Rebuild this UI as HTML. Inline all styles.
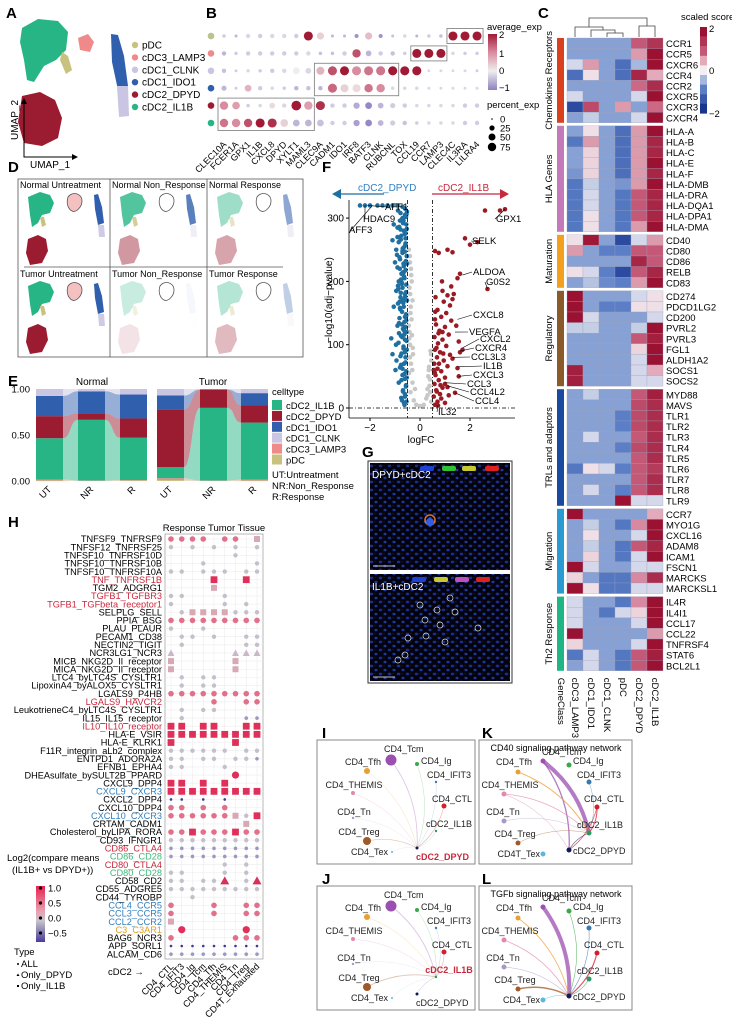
<!DOCTYPE html>
<html><head><meta charset="utf-8">
<style>
html,body{margin:0;padding:0;background:#fff}
svg{display:block;font-family:"Liberation Sans",Arial,sans-serif}
text{font-family:"Liberation Sans",Arial,sans-serif}
</style></head>
<body>
<svg id="fig" xmlns="http://www.w3.org/2000/svg" width="732" height="1025" viewBox="0 0 732 1025">
<defs>
<pattern id="cells" width="9" height="8" patternUnits="userSpaceOnUse">
<rect width="9" height="8" fill="#03030f"/>
<ellipse cx="2.5" cy="2" rx="1.8" ry="1.4" fill="#1a2f8a"/>
<ellipse cx="7" cy="6" rx="1.6" ry="1.3" fill="#20389a"/>
<circle cx="6" cy="1.5" r="0.4" fill="#2a6a2a"/>
</pattern>
<linearGradient id="hgrad" x1="0" y1="0" x2="0" y2="1">
<stop offset="0" stop-color="#e8204f"/><stop offset="0.45" stop-color="#e8a0b0"/><stop offset="0.62" stop-color="#c8c4cc"/><stop offset="1" stop-color="#4a3a9a"/>
</linearGradient>
<linearGradient id="bgrad" x1="0" y1="0" x2="0" y2="1">
<stop offset="0" stop-color="#a11a35"/><stop offset="0.33" stop-color="#d98ba0"/><stop offset="0.66" stop-color="#eeeeee"/><stop offset="1" stop-color="#9080c0"/>
</linearGradient>
</defs>
<g font-weight="bold" font-size="15">
<text x="6" y="18">A</text>
<text x="206" y="18">B</text>
<text x="538" y="18">C</text>
<text x="8" y="172">D</text>
<text x="8" y="386">E</text>
<text x="322" y="172">F</text>
<text x="362" y="457">G</text>
<text x="8" y="527">H</text>
<text x="322" y="738">I</text>
<text x="482" y="738">K</text>
<text x="322" y="884">J</text>
<text x="482" y="884">L</text>
</g>

<!-- Panel A -->
<g>
<path d="M22,28 L38,19 L58,21 L68,32 L66,50 L56,60 L44,66 L34,82 L27,80 L24,60 L20,42 Z" fill="#27b586"/>
<path d="M62,52 L68,56 L72,70 L66,74 L60,60 Z" fill="#c9c27e"/>
<path d="M78,38 L88,34 L94,42 L90,52 L80,50 Z" fill="#f08a8a"/>
<path d="M22,96 L40,92 L55,100 L62,118 L58,138 L42,146 L24,143 L18,122 Z" fill="#9b1b30"/>
<path d="M111,34 L118,35 L124,56 L128,86 L118,90 L112,62 Z" fill="#2f5fad"/>
<path d="M117,86 L128,86 L129,116 L119,117 Z" fill="#c9c5e2"/>
<path d="M24,100 L24,157 L76,157" fill="none" stroke="#000" stroke-width="1"/>
<path d="M21,104 L24,98 L27,104 Z M72,154 L78,157 L72,160 Z" fill="#000"/>
<text x="18" y="140" font-size="10" transform="rotate(-90 18 140)">UMAP_2</text>
<text x="30" y="168" font-size="10">UMAP_1</text>
<g id="aLegend" font-size="10"></g>
</g>

<g id="panelB"></g>
<g id="panelC"></g>
<g id="panelD"></g>
<g id="panelE"></g>
<g id="panelF"></g>
<g id="panelG">
<rect x="368" y="461" width="144" height="222" fill="#fff" stroke="#333" stroke-width="1"/>
<rect x="370" y="463" width="140" height="107" fill="url(#cells)"/>
<rect x="370" y="574" width="140" height="107" fill="url(#cells)"/>
<text x="372" y="478" font-size="10" fill="#fff">DPYD+cDC2</text>
<text x="372" y="590" font-size="10" fill="#fff">IL1B+cDC2</text>
<rect x="420" y="466" width="14" height="5" rx="2" fill="#2040d0"/><rect x="442" y="466" width="14" height="5" rx="2" fill="#30c030"/><rect x="462" y="466" width="14" height="5" rx="2" fill="#c8c830"/><rect x="485" y="466" width="14" height="5" rx="2" fill="#e02020"/>
<rect x="412" y="577" width="14" height="5" rx="2" fill="#2040d0"/><rect x="434" y="577" width="14" height="5" rx="2" fill="#c8c830"/><rect x="455" y="577" width="14" height="5" rx="2" fill="#c050c0"/><rect x="476" y="577" width="14" height="5" rx="2" fill="#e02020"/>
<circle cx="430" cy="520" r="5" fill="none" stroke="#e07030" stroke-width="1.5"/><circle cx="430" cy="522" r="4" fill="#3060e0"/>
<g fill="none" stroke="#ddd" stroke-width="0.7">
<circle cx="450" cy="598" r="3"/><circle cx="420" cy="605" r="3"/><circle cx="437" cy="610" r="3"/><circle cx="455" cy="612" r="3"/><circle cx="425" cy="620" r="3"/><circle cx="440" cy="625" r="3"/><circle cx="478" cy="628" r="3"/><circle cx="408" cy="638" r="3"/><circle cx="426" cy="636" r="3"/><circle cx="445" cy="642" r="3"/><circle cx="398" cy="660" r="3"/><circle cx="405" cy="655" r="3"/>
</g>
<line x1="373" y1="566" x2="395" y2="566" stroke="#fff" stroke-width="0.7"/><line x1="373" y1="677" x2="395" y2="677" stroke="#fff" stroke-width="0.7"/>
</g>
<g id="panelH"></g>
<g id="panelNet"></g>
</svg>

<script>
const NS='http://www.w3.org/2000/svg';
function mk(tag,attrs,parent,txt){const e=document.createElementNS(NS,tag);for(const k in attrs)e.setAttribute(k,attrs[k]);if(txt!==undefined)e.textContent=txt;parent.appendChild(e);return e;}
function lerpColor(stops,v){if(v<=stops[0][0])return stops[0][1];if(v>=stops[stops.length-1][0])return stops[stops.length-1][1];
for(let i=0;i<stops.length-1;i++){const [a,ca]=stops[i],[b,cb]=stops[i+1];if(v>=a&&v<=b){const t=(v-a)/(b-a);const p=h=>[1,3,5].map(j=>parseInt(h.substr(j,2),16));const A=p(ca),B=p(cb);return 'rgb('+A.map((x,k)=>Math.round(x+(B[k]-x)*t)).join(',')+')';}}}

/* ---------- A legend ---------- */
const aCells=['pDC','cDC3_LAMP3','cDC1_CLNK','cDC1_IDO1','cDC2_DPYD','cDC2_IL1B'];
const aColors=['#c9c27e','#f08a8a','#c9c5e2','#2f5fad','#9b1b30','#27b586'];
(function(){const g=document.getElementById('aLegend');
aCells.forEach((c,i)=>{const y=45+i*12.4;
const d=mk('circle',{cx:135,cy:y,r:3.2,fill:aColors[i]},g);


const t=mk('text',{x:142,y:y+3.5},g,c);

});})();

/* ---------- B dot plot ---------- */
const bRows=['pDC','cDC3_LAMP3','cDC1_CLNK','cDC1_IDO1','cDC2_DPYD','cDC2_IL1B'];
const bRowColors=['#b9c48a','#f08a8a','#c9c5e2','#2f5fad','#9b1b30','#27b586'];
const bGenes=['CLEC10A','FCER1A','GPX1','IL1B','CXCL8','DPYD','XYLT1','MAML3','CLEC9A','CADM1','IDO1','IRF8','BATF3','CLNK','RUBCNL','TOX','CCL19','CCR7','LAMP3','CLEC4C','IL3RA','LILRA4'];
const bAvg=[
[-0.3,-0.5,-0.2,-0.3,-0.2,-0.2,-0.3,2,0.3,-0.5,-0.5,-0.8,0.5,-0.8,-0.4,-0.2,-0.5,-0.3,-0.4,2,2,2],
[-0.5,-0.3,-0.3,-0.3,-0.3,-0.3,-0.3,-0.2,-0.4,-0.4,-0.3,1.5,-0.5,-0.3,-0.4,-0.3,2,2,2,-0.2,-0.3,-0.3],
[-0.4,-0.3,-0.2,-0.3,-0.3,-0.2,0,-0.2,0.6,1.5,2,1,1.2,1.2,2,2,2,-0.2,-0.2,-0.2,-0.2,-0.3],
[-0.5,-0.3,0.6,-0.3,-0.2,-0.3,-0.5,-0.4,-0.5,1.3,0.3,0.2,1.2,1,-0.2,-0.2,-0.2,-0.2,-0.2,-0.2,-0.2,-0.2],
[1,0.8,-0.3,-0.2,0.2,-0.2,2,0.8,1.8,-0.3,-0.3,-0.6,-0.9,-0.5,-0.3,-0.3,-0.2,-0.2,-0.2,-0.2,-0.3,-0.3],
[1.2,1,1.5,2,1.8,0.3,-0.5,-0.5,-0.4,-0.3,-0.3,-0.7,-0.9,-0.5,-0.3,-0.4,-0.3,-0.2,-0.2,-0.2,-0.3,-0.3]];
const bPct=[
[5,3,10,10,10,10,10,60,35,3,3,8,35,8,3,5,3,5,5,60,60,60],
[10,5,10,10,10,10,10,10,5,5,10,50,20,10,10,5,60,60,60,5,5,5],
[10,3,5,5,10,10,30,20,45,60,60,60,60,60,60,60,60,3,3,3,3,3],
[15,3,30,10,5,5,10,10,10,60,45,45,50,50,5,5,5,3,3,3,3,3],
[50,40,5,5,20,10,70,50,60,10,10,25,30,20,15,10,5,5,5,5,10,10],
[50,50,50,60,60,40,30,30,30,10,10,25,30,20,15,10,5,5,5,5,10,10]];
const bStops=[[-1,'#8e7cc3'],[0,'#eeeeee'],[1,'#d98ba0'],[2,'#a11a35']];
(function(){const g=document.getElementById('panelB');
const bx=j=>224+j*12.05, by=i=>36+i*17.4, br=p=>Math.sqrt(p/75)*4.4+0.6;
bRows.forEach((r,i)=>{const d=mk('circle',{cx:211,cy:by(i),r:3.3,fill:bRowColors[i]},g);


bGenes.forEach((gn,j)=>{const c=mk('circle',{cx:bx(j),cy:by(i),r:br(bPct[i][j]),fill:lerpColor(bStops,bAvg[i][j])},g);

});});
bGenes.forEach((gn,j)=>{const x=bx(j)+3,y=145;const t=mk('text',{x:x,y:y,'font-size':9,'text-anchor':'end',transform:'rotate(-45 '+x+' '+y+')'},g,gn);

});
const boxes=[[19,21,0,0],[16,18,1,1],[8,14,2,3],[0,7,4,5]];
boxes.forEach((b,k)=>{const r=mk('rect',{x:bx(b[0])-6,y:by(b[2])-7.5,width:bx(b[1])-bx(b[0])+12,height:by(b[3])-by(b[2])+15,fill:'none',stroke:'#888','stroke-width':0.9},g);

});
mk('text',{x:487,y:30,'font-size':9.5},g,'average_exp');
const cb=mk('rect',{x:488,y:34,width:9,height:56,fill:'url(#bgrad)'},g);


[['2',38],['1',57],['0',74],['\u22121',91]].forEach(a=>mk('text',{x:499,y:a[1],'font-size':9.5},g,a[0]));
mk('text',{x:487,y:108,'font-size':9.5},g,'percent_exp');
[[0,0.8,119],[25,2.6,128],[50,3.5,137],[75,4.2,147]].forEach(a=>{mk('circle',{cx:492,cy:a[2],r:a[1],fill:'#000'},g);mk('text',{x:500,y:a[2]+3.5,'font-size':9.5},g,String(a[0]));});
})();

/* ---------- C heatmap ---------- */
const cCols=['cDC3_LAMP3','cDC1_IDO1','cDC1_CLNK','pDC','cDC2_DPYD','cDC2_IL1B'];
const cGroups=['Chemokines Receptors','HLA Genes','Maturation','Regulatory','TRLs and adaptors','Migration','Th2 Response'];
const cGroupColors=['#d9401e','#c479b8','#f2a01e','#8a5a2a','#1a4aa0','#2a9ad0','#1fb585'];
const cGenes=[
['CCR1','CCR5','CXCR6','CCR4','CCR2','CXCR5','CXCR3','CXCR4'],
['HLA-A','HLA-B','HLA-C','HLA-E','HLA-F','HLA-DMB','HLA-DRA','HLA-DQA1','HLA-DPA1','HLA-DMA'],
['CD40','CD80','CD86','RELB','CD83'],
['CD274','PDCD1LG2','CD200','PVRL2','PVRL3','FGL1','ALDH1A2','SOCS1','SOCS2'],
['MYD88','MAVS','TLR1','TLR2','TLR3','TLR4','TLR5','TLR6','TLR7','TLR8','TLR9'],
['CCR7','MYO1G','CXCL16','ADAM8','ICAM1','FSCN1','MARCKS','MARCKSL1'],
['IL4R','IL4I1','CCL17','CCL22','TNFRSF4','STAT6','BCL2L1']];
const cVals=[
[[-0.7,-0.7,-0.7,-0.7,1,1.5],[-0.7,-0.7,-0.7,-0.7,0.6,2],[-0.2,0.6,-0.7,-1.2,-0.5,2],[-1.2,0.1,-0.7,-1.2,1.7,0.5],[-0.7,-0.7,-0.7,-0.7,0.9,1.6],[-0.2,-0.7,-0.7,-0.7,-0.2,2],[-1.7,1.2,-0.7,0.6,-0.7,0.9],[-0.7,-0.3,-0.7,-0.7,-0.2,2]],
[[-0.7,0.1,-0.7,-1.2,0.6,2],[-1.1,0.6,-0.7,-1.2,0.6,1.7],[-0.7,0.2,-0.7,-1.2,0.6,1.7],[-0.7,0.2,-0.7,-1.2,0.6,2],[-0.8,0.2,-0.7,-1.2,0.6,1.7],[-1.1,-0.3,-0.7,-0.8,0.6,2],[-1.1,-0.2,-0.7,-1.1,1,1.7],[-1.1,-0.2,-0.7,-1.1,1,1.7],[-1.1,0.1,-0.7,-1.1,1,1.7],[-1.1,0.1,-0.7,-1.1,0.6,2]],
[[0.1,1.9,-0.7,-1.7,-0.2,0.6],[0.6,-0.7,-1,-1,1,1],[-0.7,-0.7,-0.7,-0.7,1.7,1],[0.1,-0.2,-1,-1.7,1,1.7],[-0.7,-0.4,-0.9,-1,0.6,2]],
[[2,-0.7,-0.7,-0.7,-0.2,0.1],[2,-0.7,-1,-1,0.1,0.1],[2,-0.2,-0.7,-0.7,-0.7,-0.2],[-0.3,-0.3,-0.7,-0.7,-0.3,2],[-0.7,-0.7,-0.7,-0.7,1,1.8],[-0.7,-0.7,-0.7,-0.7,0.2,2],[-0.7,-0.7,-0.7,-0.7,-0.2,2],[1.8,-0.7,-0.7,-0.7,-0.2,0.5],[1.8,-0.7,-0.7,-0.7,-0.2,-0.2]],
[[-0.7,-0.3,-0.7,-0.7,1,1.8],[-0.7,-0.7,-0.7,-0.7,1.2,1.6],[-0.7,-0.7,-0.7,-1,1.2,1.6],[-0.7,-0.7,-0.7,-1,1.2,1.6],[-0.7,-0.2,-0.7,-0.7,1,1.6],[-0.7,-0.7,-0.7,-1,1.2,1.6],[-0.7,-0.7,-0.7,-0.7,1,1.6],[-1.1,0.1,-0.2,-1,1,1.4],[-0.7,-0.7,-0.7,-0.7,1,1.6],[-0.7,-0.2,-0.7,-1,1,1.6],[-0.7,-0.7,-0.7,2,-0.2,-0.2]],
[[2,-0.7,-0.7,-0.7,-0.7,0.5],[-0.7,-0.3,-0.7,-1.1,0.7,2],[-0.7,0.1,-0.7,-0.7,-0.2,2],[-0.7,-0.3,-0.7,-1.1,1,1.7],[-0.7,0.2,-0.7,-1.1,-0.2,2],[2,-0.2,-0.7,-0.7,-0.2,-0.2],[0.2,-0.7,-1.1,-1.1,0.7,1.6],[2,0.1,-1.1,-1.1,-0.2,-0.2]],
[[-0.2,-0.7,-0.7,-1.1,0.7,2],[-0.2,-0.7,-1.1,-0.2,0.2,2],[-0.2,-0.7,-0.7,-0.7,-0.2,2],[2,-0.7,-0.7,-0.7,-0.7,0.6],[0.2,-0.7,-0.7,-0.7,-0.2,2],[-1.1,-0.2,-0.7,-1.1,1,1.8],[-0.7,-0.2,-0.7,-1.1,1,2]]];
const cStops=[[-2,'#17348f'],[-1,'#5b7ec6'],[-0.5,'#a6b8dd'],[0,'#f2eef2'],[0.5,'#e2aabb'],[1,'#c45877'],[2,'#9b1131']];
(function(){const g=document.getElementById('panelC');
const x0=567,cw=16,rh=10.6,gap=3;let y=38;
cGroups.forEach((grp,gi)=>{const y1=y;
cGenes[gi].forEach((gn,ri)=>{
cVals[gi][ri].forEach((v,ci)=>{const r=mk('rect',{x:x0+ci*cw,y:y,width:cw,height:rh,fill:lerpColor(cStops,v),stroke:'#9aa0b8','stroke-width':0.3},g);

});
const t=mk('text',{x:x0+6*cw+3,y:y+rh-1.5,'font-size':9.5},g,gn);


y+=rh;});
const bar=mk('rect',{x:557,y:y1,width:7,height:y-y1,fill:cGroupColors[gi]},g);


const cy=(y1+y)/2;const gl=mk('text',{x:552,y:cy,'font-size':9.5,'text-anchor':'middle',transform:'rotate(-90 552 '+cy+')'},g,grp);


y+=gap;});
const yb=y+4;
['GeneClass'].concat(cCols).forEach((c,i)=>{const x=i===0?561:x0+(i-1)*cw+cw/2;const t=mk('text',{x:x-3,y:yb,'font-size':9.5,transform:'rotate(90 '+(x-3)+' '+yb+')'},g,c);

});
const cx=i=>x0+i*cw+cw/2;
const dp='M'+cx(2)+',37 V33 H'+cx(3)+' V37 M'+((cx(2)+cx(3))/2)+',33 V30 H'+cx(1)+' V37 M'+((cx(1)+(cx(2)+cx(3))/2)/2)+',30 V27 H'+cx(0)+' V37 M'+cx(4)+',37 V26 H'+cx(5)+' V37 M'+(((cx(1)+(cx(2)+cx(3))/2)/2+cx(0))/2)+',27 V18 H'+((cx(4)+cx(5))/2)+' V26';
const dd=mk('path',{d:dp,fill:'none',stroke:'#444','stroke-width':0.8},g);


mk('text',{x:681,y:20,'font-size':9.5},g,'scaled score');
[2,1.5,1,0.5,0,-0.5,-1,-1.5,-2].forEach((v,i)=>mk('rect',{x:700,y:27+i*9.6,width:7,height:9.8,fill:lerpColor(cStops,v)},g));
[['2',32],['0',74],['\u22122',117]].forEach(a=>mk('text',{x:709,y:a[1],'font-size':9.5},g,a[0]));
})();

/* ---------- D split UMAPs ---------- */
const dTitles=['Normal Untreatment','Normal Non_Response','Normal Response','Tumor Untreatment','Tumor Non_Response','Tumor Response'];
const dGreen=[1,0.8,0.45,1,0.25,0.35];
const dRed=[1,0.45,0.4,1,0.12,0.3];
const dBlue=[1,0.8,0.55,1,0.05,0.3];
const dLav=[0.9,0.3,0.3,0.9,0.02,0.1];
(function(){const g=document.getElementById('panelD');
mk('rect',{x:18,y:179,width:285,height:178,fill:'none',stroke:'#555','stroke-width':0.8},g);
const px=[18,110,207],py=[179,268];
mk('line',{x1:110,y1:179,x2:110,y2:357,stroke:'#555','stroke-width':0.8},g);
mk('line',{x1:207,y1:179,x2:207,y2:357,stroke:'#555','stroke-width':0.8},g);
mk('line',{x1:24,y1:267,x2:283,y2:267,stroke:'#555','stroke-width':0.8},g);
dTitles.forEach((t,k)=>{const ox=px[k%3],oy=py[Math.floor(k/3)];
const s=mk('g',{transform:'translate('+ox+','+oy+')'},g);


mk('text',{x:2,y:9,'font-size':9},s,t);
mk('path',{d:'M10,18 L22,13 L32,16 L36,24 L32,34 L24,36 L20,44 L14,48 L12,36 Z',fill:'#27b586',opacity:dGreen[k]},s);
mk('path',{d:'M22,38 L26,38 L28,46 L24,48 Z',fill:'#c9c27e',opacity:dGreen[k]},s);
mk('path',{d:'M10,60 L20,56 L28,60 L30,72 L24,84 L12,86 L8,74 Z',fill:'#9b1b30',opacity:dRed[k]},s);
mk('path',{d:'M76,16 L80,15 L84,28 L86,44 L80,46 L77,30 Z',fill:'#2f5fad',opacity:dBlue[k]},s);
mk('path',{d:'M80,46 L86,46 L87,58 L81,58 Z',fill:'#c9c5e2',opacity:dLav[k]},s);
mk('path',{d:'M50,18 C54,12 64,14 64,22 C64,28 58,34 54,32 C50,30 48,24 50,18 Z',fill:k===0||k===3?'#f5c0c0':'none',stroke:'#555','stroke-width':0.8},s);
});})();

/* ---------- E stacked flow ---------- */
const eTypes=['pDC','cDC3_LAMP3','cDC2_IL1B','cDC2_DPYD','cDC1_IDO1','cDC1_CLNK'];
const eColors=['#c9c27e','#f08a8a','#27b586','#9b1b30','#2f5fad','#c9c5e2'];
const eGroups=['UT','NR','R'];
const eNormal=[[0.005,0.01,0.45,0.24,0.22,0.075],[0.002,0.003,0.66,0.07,0.24,0.025],[0.005,0.005,0.46,0.21,0.26,0.06]];
const eTumor=[[0.01,0.02,0.12,0.63,0.15,0.07],[0.002,0.003,0.79,0.2,0.0,0.005],[0.005,0.01,0.62,0.19,0.13,0.045]];
const eLegendOrder=['cDC2_IL1B','cDC2_DPYD','cDC1_IDO1','cDC1_CLNK','cDC3_LAMP3','pDC'];
(function(){const g=document.getElementById('panelE');
const y0=481,H=92,yy=v=>y0-v*H;
[['1.00',1],['0.50',0.5],['0.00',0]].forEach(a=>{const t=mk('text',{x:30,y:yy(a[1])+3.5,'font-size':9.5,'text-anchor':'end'},g,a[0]);

});
function draw(data,xs,title,tx){const tt=mk('text',{x:tx,y:385,'font-size':10,'text-anchor':'middle'},g,title);


const cum=data.map(d=>{let c=0;return d.map(v=>{const r=[c,c+v];c+=v;return r;});});
for(let b=0;b<2;b++)eTypes.forEach((tp,ti)=>{const a=cum[b][ti],c=cum[b+1][ti];const x1=xs[b]+27,x2=xs[b+1];
const p=mk('path',{d:'M'+x1+','+yy(a[1])+' C'+(x1+8)+','+yy(a[1])+' '+(x2-8)+','+yy(c[1])+' '+x2+','+yy(c[1])+' L'+x2+','+yy(c[0])+' C'+(x2-8)+','+yy(c[0])+' '+(x1+8)+','+yy(a[0])+' '+x1+','+yy(a[0])+'Z',fill:eColors[ti],opacity:0.5},g);

});
data.forEach((d,b)=>{eTypes.forEach((tp,ti)=>{const r=mk('rect',{x:xs[b],y:yy(cum[b][ti][1]),width:27,height:d[ti]*H,fill:eColors[ti]},g);

});
const lx=xs[b]+16,ly=490;const t=mk('text',{x:lx,y:ly,'font-size':9.5,'text-anchor':'end',transform:'rotate(-45 '+lx+' '+ly+')'},g,eGroups[b]);

});}
draw(eNormal,[36,78,120],'Normal',92);
draw(eTumor,[157,200,241],'Tumor',213);
mk('text',{x:272,y:395,'font-size':9.5},g,'celltype');
eLegendOrder.forEach((tp,i)=>{const c=eColors[eTypes.indexOf(tp)];const r=mk('rect',{x:272,y:400+i*10.9,width:10,height:10,fill:c},g);


const t=mk('text',{x:286,y:409+i*10.9,'font-size':9.5},g,tp);

});
['UT:Untreatment','NR:Non_Response','R:Response'].forEach((s,i)=>mk('text',{x:272,y:478+i*11,'font-size':9.5},g,s));
})();

/* ---------- F volcano ---------- */
const fBlueFC=[-0.52,-0.6,-0.7,-0.8,-0.55,-0.9,-0.65,-0.75,-0.58,-0.85,-0.62,-0.95,-0.7,-0.53,-0.8,-0.66,-0.9,-0.57,-0.74,-0.62,-0.85,-0.55,-0.7,-0.95,-0.6,-0.78,-0.52,-0.88,-0.65,-0.72,-0.56,-0.82,-0.62,-0.9,-0.68,-0.54,-0.76,-0.6,-0.86,-0.66,-0.53,-0.74,-0.58,-0.94,-0.64,-0.8,-0.55,-0.7,-0.6,-0.85,-0.56,-0.68,-0.6,-0.75,-0.54,-0.62,-0.58,-0.68,-0.56,-0.78,-0.88,-1.05,-1.1,-1.0,-1.05,-1.15,-0.98,-1.1,-1.3,-1.5,-1.7,-2.0,-2.2,-2.4,-1.1,-0.9,-0.7,-0.6,-0.72,-0.83,-0.61,-0.77,-0.69,-0.92,-0.57,-0.81,-0.64,-0.73,-0.87,-0.59,-0.67,-0.79,-0.55,-0.84,-0.63,-0.71,-0.96,-0.6,-0.76,-0.53,
-0.54,-0.66,-0.78,-0.9,-0.58,-0.7,-0.82,-0.52,-0.64,-0.76,-0.88,-0.56,-0.68,-0.8,-0.6,-0.72,-0.84,-0.54,-0.66,-0.78,-0.58,-0.7,-0.62,-0.74,-0.56,-0.68,-0.6,-0.72,-0.64,-0.53,-0.57,-0.61,-0.65,-0.69,-0.73,-0.77,-0.81,-0.55,-0.59,-0.63];
const fBlueY=[310,305,300,296,290,285,280,272,268,262,255,250,245,240,235,228,222,218,212,205,200,195,190,185,180,175,170,165,160,152,148,142,136,130,125,120,114,108,103,97,92,86,80,75,70,64,58,52,46,40,34,28,22,16,10,5,260,292,302,308,312,290,265,230,160,110,60,85,320,320,320,320,320,320,320,320,318,315,298,286,275,266,252,242,232,220,208,198,188,176,166,156,146,134,122,112,100,88,68,48,
306,296,282,270,258,248,238,228,215,203,193,183,171,158,144,132,118,106,94,82,72,62,54,44,36,26,18,12,8,283,276,247,224,214,196,182,168,138,128,116];
const fGrayFC=[-0.45,-0.4,-0.35,-0.42,-0.3,-0.38,-0.45,-0.32,-0.4,-0.28,-0.36,-0.44,-0.3,-0.38,-0.25,-0.15,0,0.15,0.25,0.3,0.4,0.35,0.45,0.42,0.3,-0.2,-0.33,-0.41,-0.37,-0.43,0.45,0.38,-0.34,-0.39,-0.31,0.33,0.41,-0.36,-0.42,-0.29,-0.4,0.36,0.44];
const fGrayY=[250,230,210,190,170,150,130,115,100,85,70,55,40,25,12,5,3,5,15,30,45,60,75,90,20,30,200,240,160,110,10,35,140,180,60,50,25,220,120,95,80,65,85];
const fRedFC=[0.6,0.7,0.55,0.8,0.65,0.9,0.58,0.75,1.0,0.62,0.85,0.7,1.1,0.57,0.95,0.68,1.2,0.8,0.6,1.05,0.72,0.9,0.58,1.15,0.78,1.0,0.64,1.25,0.85,1.05,0.7,1.2,0.95,1.3,1.1,0.9,1.25,1.5,1.6,1.35,0.6,0.75,1.1,1.3,2.0,2.3,1.8,2.7,3.2,3.4,2.6,1.45,1.55,1.7,1.6,1.3,1.5,1.55,1.0,1.1,1.4,0.72,0.6,0.55,0.66,0.9,0.76,0.62,0.85,1.0,1.15,0.67,0.82,0.59,0.93,0.74,0.61,0.88];
const fRedY=[5,10,18,22,28,32,38,44,48,52,58,62,66,70,75,80,84,88,92,98,102,108,112,116,122,128,132,138,144,150,155,162,168,172,178,185,192,205,212,180,248,245,250,246,258,262,268,188,312,314,312,130,105,92,88,78,63,50,38,33,24,4,140,60,95,120,70,175,15,8,20,26,36,56,86,118,152,200];
const fLabels=['AFF1','HDAC9','AFF3','GPX1','SELK','ALDOA','G0S2','CXCL8','VEGFA','CXCL2','CXCR4','CCL3L3','IL1B','CXCL3','CCL3','CCL4L2','CCL4','IL32'];
const fLabFC=[-2.1,-2.2,-1.9,3.4,2.4,1.7,2.7,1.5,1.4,1.7,1.6,1.3,1.5,1.55,1.0,1.1,1.4,0.72];
const fLabY=[320,320,320,314,262,210,188,140,120,95,90,80,65,50,40,35,24,4];
const fYTicks=[0,100,200,300];
const fXTicks=[-2,0,2];
(function(){const g=document.getElementById('panelF');
const X=v=>420+25*v, Y=v=>408-0.633*v;
mk('line',{x1:349,y1:200,x2:349,y2:418,stroke:'#000','stroke-width':0.8},g);
mk('line',{x1:349,y1:418,x2:515,y2:418,stroke:'#000','stroke-width':0.8},g);
fYTicks.forEach(v=>{mk('line',{x1:346,y1:Y(v),x2:349,y2:Y(v),stroke:'#000'},g);const t=mk('text',{x:344,y:Y(v)+3.5,'font-size':10,'text-anchor':'end'},g,String(v));

});
fXTicks.forEach(v=>{mk('line',{x1:X(v),y1:418,x2:X(v),y2:421,stroke:'#000'},g);const t=mk('text',{x:X(v),y:431,'font-size':10,'text-anchor':'middle'},g,v<0?'\u2212'+(-v):String(v));

});
mk('text',{x:421,y:443,'font-size':10,'text-anchor':'middle'},g,'logFC');
mk('text',{x:332,y:300,'font-size':10,'text-anchor':'middle',transform:'rotate(-90 332 300)'},g,'\u2212log10(adj\u2212pvalue)');
[[fGrayFC,fGrayY,'#c8c8c8','gray'],[fBlueFC,fBlueY,'#1f6fa0','blue'],[fRedFC,fRedY,'#9b1b25','red']].forEach(s=>{s[0].forEach((v,i)=>{const c=mk('circle',{cx:X(v),cy:Y(s[1][i]),r:2.3,fill:s[2]},g);

});});
mk('line',{x1:X(-0.5),y1:200,x2:X(-0.5),y2:418,stroke:'#000','stroke-width':0.8,'stroke-dasharray':'4,2,1,2'},g);
mk('line',{x1:X(0.5),y1:200,x2:X(0.5),y2:418,stroke:'#000','stroke-width':0.8,'stroke-dasharray':'4,2,1,2'},g);
mk('line',{x1:349,y1:Y(0),x2:515,y2:Y(0),stroke:'#000','stroke-width':0.8,'stroke-dasharray':'4,2,1,2'},g);
const lpos=[[385,210],[363,222],[349,233],[496,222],[472,244],[473,275],[486,285],[473,318],[469,335],[480,342],[475,351],[471,360],[483,369],[473,378],[467,387],[470,395],[475,404],[438,415]];
fLabels.forEach((n,i)=>{const px=X(fLabFC[i]),py=Y(fLabY[i]);const [tx,ty]=lpos[i];
mk('line',{x1:px,y1:py,x2:tx+(i<3?2:-1),y2:ty-3,stroke:'#000','stroke-width':0.6},g);
const t=mk('text',{x:tx,y:ty,'font-size':9.5},g,n);

});
mk('line',{x1:384,y1:194,x2:337,y2:194,stroke:'#1f6fa0','stroke-width':1.3},g);
mk('path',{d:'M332,194 L341,189 L341,199 Z',fill:'#1f6fa0'},g);
mk('text',{x:358,y:191,'font-size':10,fill:'#2f7fc0'},g,'cDC2_DPYD');
mk('line',{x1:432,y1:194,x2:503,y2:194,stroke:'#c8283c','stroke-width':1.3},g);
mk('path',{d:'M509,194 L500,189 L500,199 Z',fill:'#c8283c'},g);
mk('text',{x:438,y:191,'font-size':10,fill:'#c8283c'},g,'cDC2_IL1B');
})();

/* ---------- H ligand-receptor dot plot ---------- */
const hCols=['CD4_CTL','CD4_IFIT3','CD4_Ig','CD4_Tcm','CD4_Tfh','CD4_THEMIS','CD4_Tn','CD4_Treg','CD4T_Exhausted'];
const hPairs=['TNFSF9_TNFRSF9','TNFSF12_TNFRSF25','TNFSF10_TNFRSF10D','TNFSF10_TNFRSF10B','TNFSF10_TNFRSF10A','TNF_TNFRSF1B','TGM2_ADGRG1','TGFB1_TGFBR3','TGFB1_TGFbeta_receptor1','SELPLG_SELL','PPIA_BSG','PLAU_PLAUR','PECAM1_CD38','NECTIN2_TIGIT','NCR3LG1_NCR3','MICB_NKG2D_II_receptor','MICA_NKG2D_II_receptor','LTC4_byLTC4S_CYSLTR1','LipoxinA4_byALOX5_CYSLTR1','LGALS9_P4HB','LGALS9_HAVCR2','LeukotrieneC4_byLTC4S_CYSLTR1','IL15_IL15_receptor','IL10_IL10_receptor','HLA-E_VSIR','HLA-E_KLRK1','F11R_integrin_aLb2_complex','ENTPD1_ADORA2A','EFNB1_EPHA4','DHEAsulfate_bySULT2B_PPARD','CXCL9_DPP4','CXCL9_CXCR3','CXCL2_DPP4','CXCL10_DPP4','CXCL10_CXCR3','CRTAM_CADM1','Cholesterol_byLIPA_RORA','CD93_IFNGR1','CD86_CTLA4','CD86_CD28','CD80_CTLA4','CD80_CD28','CD58_CD2','CD55_ADGRE5','CD44_TYROBP','CCL4_CCR5','CCL3_CCR5','CCL2_CCR2','C3_C3AR1','BAG6_NCR3','APP_SORL1','ALCAM_CD6'];
const hMarks=['pppp.pp.q','g.g.g.g.g','......g..','...g....g','gg.ggg.gg','....P..P.','....q....','gg...g...','g....g.g.','.gqqqqggg','ppppppppp','g..g.....','.gg.g..gg','.g.....gg','t.....ttt','q.....q..','q.....q..','.g.gg....','.g.gg....','ppppppppp','....p..pp','.g.gg....','.g.....ll','PP.PP..PP','PPPPPPPPP','P.....P..','gggggg.gg','gg.gg.ggl','gg...g...','......R..','PP.P.P...','PPPPPPPPP','bb.b.b...','pp.p.p...','ppppppqgP','.......q.','ppPpppPpp','ggggggggg','lllllllll','lllllllll','.....g.g.','gg...g.g.','gg.ggT.gT','ggggggggg','..g......','p...p..pp','p...p..pp','q........','.R.....R.','p.....ppp','bbbbbbbbb','lllllllll'];
const hRed=['TNF_TNFRSF1B','TGFB1_TGFBR3','TGFB1_TGFbeta_receptor1','LGALS9_HAVCR2','IL10_IL10_receptor','CD86_CTLA4','CD80_CTLA4'];
const hBlue=['CXCL9_CXCR3','CXCL10_CXCR3','CCL4_CCR5','CCL3_CCR5','CCL2_CCR2'];
const hGreen=['CD86_CD28','CD80_CD28'];
const hOrange=['C3_C3AR1'];
(function(){const g=document.getElementById('panelH');
const hx=j=>171+j*10.75, hy=i=>539+i*8.14;
mk('text',{x:214,y:531,'font-size':9.5,'text-anchor':'middle'},g,'Response Tumor Tissue');
mk('rect',{x:165,y:534,width:98,height:425,fill:'#fff',stroke:'#999','stroke-width':0.7},g);
hCols.forEach((c,j)=>mk('line',{x1:hx(j),y1:534,x2:hx(j),y2:959,stroke:'#ececec','stroke-width':0.6},g));
hPairs.forEach((p,i)=>{mk('line',{x1:165,y1:hy(i),x2:263,y2:hy(i),stroke:'#ececec','stroke-width':0.6},g);
let col='#000';if(hRed.includes(p))col='#c8283c';if(hBlue.includes(p))col='#2f7fc0';if(hGreen.includes(p))col='#3cb878';if(hOrange.includes(p))col='#e0a020';
const t=mk('text',{x:162,y:hy(i)+3.2,'font-size':9.2,'text-anchor':'end',fill:col},g,p);


hMarks[i].split('').forEach((m,j)=>{if(m==='.')return;const x=hx(j),y=hy(i);let e;
if(m==='P')e=mk('rect',{x:x-3.4,y:y-3.4,width:6.8,height:6.8,fill:'#e0305a'},g);
else if(m==='q')e=mk('rect',{x:x-3,y:y-3,width:6,height:6,fill:'#d8a8b4'},g);
else if(m==='t')e=mk('path',{d:'M'+x+','+(y-3.5)+' L'+(x+3.5)+','+(y+3)+' L'+(x-3.5)+','+(y+3)+'Z',fill:'#c8b8c8'},g);
else if(m==='T')e=mk('path',{d:'M'+x+','+(y-4.5)+' L'+(x+4.5)+','+(y+3.5)+' L'+(x-4.5)+','+(y+3.5)+'Z',fill:'#d8305a'},g);
else{const st={p:[2.8,'#e2708a'],g:[2.2,'#c4bfca'],l:[1.8,'#9c98c4'],b:[1.3,'#3a3a9a'],R:[3.6,'#e0305a']}[m];e=mk('circle',{cx:x,cy:y,r:st[0],fill:st[1]},g);}

});});
hCols.forEach((c,j)=>{const x=hx(j)+3,y=967;const t=mk('text',{x:x,y:y,'font-size':9.2,'text-anchor':'end',transform:'rotate(-45 '+x+' '+y+')'},g,c);

});
mk('text',{x:108,y:975,'font-size':9.5},g,'cDC2 \u2192');
mk('text',{x:7,y:861,'font-size':9.5},g,'Log2(compare means');
mk('text',{x:12,y:873,'font-size':9.5},g,'(IL1B+ vs DPYD+))');
const cb=mk('rect',{x:36,y:886,width:9,height:56,fill:'url(#hgrad)'},g);


[['1.0',888],['0.5',903],['0.0',918],['\u22120.5',933]].forEach(a=>{mk('circle',{cx:40.5,cy:a[1],r:1.6,fill:'#000'},g);mk('text',{x:48,y:a[1]+3.5,'font-size':9.5},g,a[0]);});
mk('text',{x:14,y:955,'font-size':9.5},g,'Type');
mk('circle',{cx:18,cy:964,r:1,fill:'#000'},g);mk('text',{x:21,y:967,'font-size':9.5},g,'ALL');
mk('path',{d:'M18,973.5 L19.5,976 L16.5,976Z',fill:'#000'},g);mk('text',{x:21,y:978,'font-size':9.5},g,'Only_DPYD');
mk('rect',{x:17,y:985,width:2,height:2,fill:'#000'},g);mk('text',{x:21,y:989,'font-size':9.5},g,'Only_IL1B');
})();

/* ---------- I-L networks ---------- */
const nNodes=['CD4_Tcm','CD4_Tfh','CD4_Ig','CD4_IFIT3','CD4_THEMIS','CD4_CTL','CD4_Tn','cDC2_IL1B','CD4_Treg','CD4_Tex','cDC2_DPYD'];
const nColors=['#9b4fb0','#e8a030','#3aa84a','#3a78b0','#e088b0','#d81c2c','#a898c8','#2a9a60','#a05a28','#5ab8e0','#101a5a'];
const nSizeIJ=[5.5,3,2,1.2,2,2.5,1.2,1.2,4,1,1.5];
const nSizeKL=[2.5,2.5,2.5,2.5,2.5,2.5,2.5,2.5,2.5,2.5,2.5];
const eI=[[0,10,0.8],[1,10,0.5],[2,10,0.5],[3,10,0.4],[4,10,0.5],[5,10,0.6],[6,10,0.3],[7,10,0.4],[8,10,0.6],[9,10,0.3]];
const eJ=[[0,7,0.8],[1,7,0.5],[2,7,0.5],[3,7,0.4],[4,7,0.5],[5,7,0.6],[6,7,0.3],[8,7,0.9],[9,7,0.3],[10,7,0.4]];
const eK=[[0,7,4],[0,10,1.3],[1,7,1],[4,7,0.8],[4,10,0.5],[5,7,1],[5,10,0.7],[6,7,0.4],[10,7,0.6],[8,7,0.4],[3,7,0.4]];
const eL=[[0,10,4],[8,10,1.5],[5,10,1.2],[1,10,0.8],[4,10,0.8],[6,10,0.6],[2,10,0.6],[3,10,0.6],[7,10,0.6],[9,10,0.5]];
(function(){const root=document.getElementById('panelNet');
const layIJ=[[74,20],[50,31],[100,24],[119,42],[36,53],[127,66],[36,78],[119,91],[50,101],[75,112],[100,108]];
const labIJ=[[67,12,'start'],[46,25,'middle'],[104,24,'start'],[132,38,'middle'],[37,48,'middle'],[135,62,'middle'],[37,75,'middle'],[132,87,'middle'],[42,95,'middle'],[71,115,'end'],[99,120,'start']];
const layKL=[[64,21],[39,32],[90,25],[110,42],[25,54],[118,67],[25,81],[110,93],[39,103],[64,114],[90,110]];
const labKL=[[63,15,'start'],[35,25,'middle'],[94,24,'start'],[120,38,'middle'],[31,48,'middle'],[125,62,'middle'],[24,75,'middle'],[121,88,'middle'],[36,97,'middle'],[61,117,'end'],[94,114,'start']];
const panels=[['i',317,740,layIJ,labIJ,nSizeIJ,eI,10,null],['k',479,740,layKL,labKL,nSizeKL,eK,-1,'CD40 signaling pathway network'],['j',317,886,layIJ,labIJ,nSizeIJ,eJ,7,null],['l',479,886,layKL,labKL,nSizeKL,eL,-1,'TGFb signaling pathway network']];
panels.forEach(P=>{const [id,ox,oy,lay,lab,sz,edges,hl,title]=P;
const g=mk('g',{transform:'translate('+ox+','+oy+')'},root);


mk('rect',{x:0,y:0,width:id==='i'||id==='j'?158:153,height:124,fill:'#fff',stroke:'#888','stroke-width':1},g);
if(title)mk('text',{x:77,y:11,'font-size':9,'text-anchor':'middle'},g,title);
const strong=id==='k'||id==='l';
edges.forEach(e=>{const [a,b,w]=e;const [x1,y1]=lay[a],[x2,y2]=lay[b];const mx=(x1+x2)/2+(y2-y1)*0.18,my=(y1+y2)/2-(x2-x1)*0.18;
const p=mk('path',{d:'M'+x1+','+y1+' Q'+mx+','+my+' '+x2+','+y2,fill:'none',stroke:nColors[a],'stroke-width':w,opacity:strong?0.75:0.35},g);

});
nNodes.forEach((n,i)=>{const c=mk('circle',{cx:lay[i][0],cy:lay[i][1],r:sz[i],fill:nColors[i]},g);


let name=n;if(id==='k'&&n==='CD4_Tex')name='CD4T_Tex';
const isHl=i===hl;
const t=mk('text',{x:lab[i][0],y:lab[i][1],'font-size':9,'text-anchor':lab[i][2],fill:isHl?'#c8283c':'#222','font-weight':isHl?'bold':'normal'},g,name);

});
});})();
</script>
</body></html>
